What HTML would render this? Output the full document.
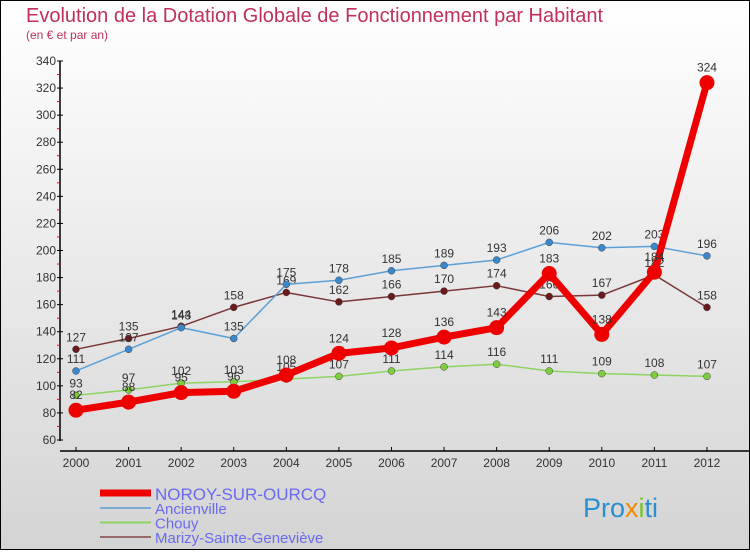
<!DOCTYPE html>
<html><head><meta charset="utf-8"><style>
body{margin:0;width:750px;height:550px;overflow:hidden;font-family:"Liberation Sans",sans-serif}
</style></head><body>
<svg id="c" width="750" height="550" xmlns="http://www.w3.org/2000/svg">
<defs><linearGradient id="bg" x1="0" y1="0" x2="0" y2="1"><stop offset="0" stop-color="#ffffff"/><stop offset="1" stop-color="#d4d4d4"/></linearGradient></defs>
<rect x="0.5" y="0.5" width="749" height="549" fill="url(#bg)" stroke="#000"/>
<text x="26" y="22" font-size="20" fill="#c0305a">Evolution de la Dotation Globale de Fonctionnement par Habitant</text>
<text x="26" y="39" font-size="12" fill="#c0305a">(en € et par an)</text>
<g id="axes"></g><g id="series"></g><g id="legend"></g>
<text x="583" y="517" font-size="27" fill="#2a8fd0">Pro<tspan fill="#f08a00">x</tspan><tspan fill="#7cc22a">i</tspan>ti</text>
</svg>
<script>
const years=[2000,2001,2002,2003,2004,2005,2006,2007,2008,2009,2010,2011,2012];
const noroy=[82,88,95,96,108,124,128,136,143,183,138,184,324];
const ancienville=[111,127,143,135,175,178,185,189,193,206,202,203,196];
const chouy=[93,97,102,103,105,107,111,114,116,111,109,108,107];
const marizy=[127,135,144,158,169,162,166,170,174,166,167,182,158];
const yTicks=[60,80,100,120,140,160,180,200,220,240,260,280,300,320,340];
const seriesNames=["NOROY-SUR-OURCQ","Ancienville","Chouy","Marizy-Sainte-Geneviève"];
const NS="http://www.w3.org/2000/svg";
const X=i=>76+i*52.58;
const Y=v=>440-(v-60)*1.3536;
function mk(t,a,p){const e=document.createElementNS(NS,t);for(const k in a)e.setAttribute(k,a[k]);p.appendChild(e);return e;}
const ax=document.getElementById('axes');
let l=mk('line',{x1:60,y1:Y(340),x2:60,y2:441,stroke:'#000','stroke-width':1.5},ax);


l=mk('line',{x1:60,y1:451,x2:750,y2:451,stroke:'#000','stroke-width':1.5},ax);


yTicks.forEach(v=>{
  mk('line',{x1:57,y1:Y(v),x2:63,y2:Y(v),stroke:'#000'},ax);
  if(v<340)mk('line',{x1:57,y1:Y(v+10),x2:60,y2:Y(v+10),stroke:'#f00'},ax);
  const t=mk('text',{x:56,y:Y(v)+4,'font-size':12,fill:'#333','text-anchor':'end'},ax);
  t.textContent=v;
  
  
});
years.forEach((y,i)=>{
  mk('line',{x1:X(i),y1:447,x2:X(i),y2:451,stroke:'#000'},ax);
  const t=mk('text',{x:X(i),y:467,'font-size':12,fill:'#333','text-anchor':'middle'},ax);
  t.textContent=y;
  
  
});
const sg=document.getElementById('series');
const specs=[
 [chouy,'#8ed460','#7ccf3a',1.5,3.5,'chouy'],
 [marizy,'#7a3636','#6a1a1a',1.5,3.5,'marizy'],
 [ancienville,'#5aa0d8','#3a88cc',1.5,3.5,'ancienville'],
 [noroy,'#ee0000','#ee0000',7,7.5,'noroy']
];
specs.forEach(([d,lc,pc,w,r,n])=>{
  const g=mk('g',{},sg);
  
  
  const p=mk('polyline',{points:d.map((v,i)=>X(i)+','+Y(v)).join(' '),fill:'none',stroke:lc,'stroke-width':w,'stroke-linejoin':'round'},g);
  
  
  d.forEach((v,i)=>{
    const c=mk('circle',{cx:X(i),cy:Y(v),r:r,fill:pc,stroke:n==='noroy'?'none':'#444','stroke-width':0.5},g);
    
    
    const t=mk('text',{x:X(i),y:Y(v)-(n==='noroy'?11:8),'font-size':12,fill:'#333','text-anchor':'middle'},g);
    t.textContent=v;
    
    
  });
});
const lg=document.getElementById('legend');
const lcols=['#ee0000','#7aaed0','#8ed460','#9a6a6a'];
seriesNames.forEach((s,i)=>{
  const y=i===0?493:508+(i-1)*14.5;
  const g=mk('g',{},lg);
  
  
  mk('line',{x1:100,y1:y,x2:151,y2:y,stroke:lcols[i],'stroke-width':i===0?7:2},g);
  const t=mk('text',{x:155,y:y+(i===0?7:6),'font-size':i===0?17:15,fill:'#6a6af0'},g);
  t.textContent=s;
});
</script>
</body></html>
